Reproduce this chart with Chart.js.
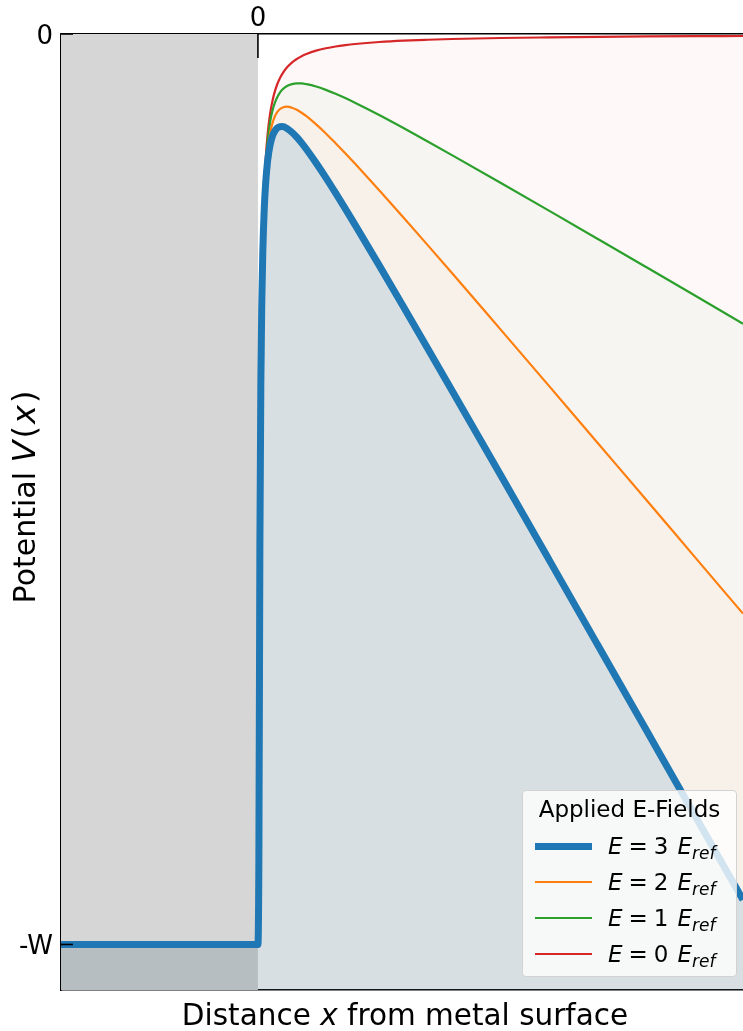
<!DOCTYPE html>
<html>
<head>
<meta charset="utf-8">
<script src="https://cdn.jsdelivr.net/npm/chart.js@4.4.1/dist/chart.umd.min.js"></script>
<style>
html,body{margin:0;padding:0;background:#fff;overflow:hidden;}
#wrap{position:relative;width:743px;height:1031px;}
canvas{display:block;}
#legend{position:absolute;left:522px;top:790px;width:215px;height:187px;box-sizing:border-box;
  background:rgba(255,255,255,0.8);border:1.5px solid #d2d2d2;border-radius:4px;
  font-family:"DejaVu Sans";color:#000;}
#legend .lt{position:absolute;left:0;right:0;top:3px;height:30px;line-height:30px;text-align:center;font-size:23px;}
#legend .row{position:absolute;left:0;right:0;height:30px;}
#legend .sw{position:absolute;left:12px;width:57px;}
#legend .lbl{position:absolute;left:85px;top:0;height:30px;line-height:30px;font-size:23px;white-space:nowrap;}
#legend .lbl .eq{margin:0 6px;}
#legend .lbl .e2{margin-left:9px;}
#legend .lbl .sub{position:relative;top:5px;font-size:17px;font-style:italic;}
</style>
</head>
<body>
<div id="wrap">
<canvas id="c" width="743" height="1031"></canvas>
<div id="legend"></div>
</div>
<script>
// ---- data ----
const xValues = [-4.06, 0, 0.02, 0.04, 0.06, 0.08, 0.1, 0.13, 0.16, 0.2, 0.25, 0.3, 0.35, 0.4, 0.45, 0.5, 0.6, 0.7, 0.8, 0.9, 1.0, 1.2, 1.4, 1.6, 1.8, 2.0, 2.5, 3, 3.5, 4, 5, 6, 7, 8, 9, 10];
const potentialE3 = [-10, -10, -9.0, -5.62, -3.83, -2.93, -2.40, -1.92, -1.63, -1.39, -1.22, -1.12, -1.064, -1.032, -1.018, -1.017, -1.037, -1.079, -1.133, -1.196, -1.266, -1.417, -1.578, -1.746, -1.918, -2.094, -2.541, -2.996, -3.454, -3.915, -4.842, -5.773, -6.706, -7.640, -8.574, -9.510];
const potentialE2 = [-10, -10, -9.2, -5.57, -3.76, -2.85, -2.32, -1.83, -1.53, -1.28, -1.09, -0.977, -0.903, -0.856, -0.826, -0.809, -0.798, -0.810, -0.833, -0.865, -0.903, -0.993, -1.092, -1.199, -1.309, -1.423, -1.715, -2.015, -2.319, -2.625, -3.244, -3.865, -4.489, -5.113, -5.740, -6.366];
const potentialE1 = [-10, -10, -9.2, -5.52, -3.70, -2.79, -2.25, -1.75, -1.44, -1.18, -0.97, -0.84, -0.754, -0.692, -0.646, -0.613, -0.571, -0.551, -0.543, -0.543, -0.551, -0.577, -0.614, -0.657, -0.704, -0.755, -0.890, -1.033, -1.180, -1.330, -1.633, -1.940, -2.249, -2.559, -2.870, -3.183];
const potentialE0 = [-10, -10, -9.2, -5.49, -3.66, -2.75, -2.20, -1.69, -1.37, -1.10, -0.879, -0.733, -0.628, -0.549, -0.488, -0.440, -0.366, -0.314, -0.275, -0.244, -0.220, -0.183, -0.157, -0.137, -0.122, -0.110, -0.088, -0.073, -0.063, -0.055, -0.044, -0.037, -0.031, -0.027, -0.024, -0.022];
const metalX = [-4.06, 0];
const metalTop = [0, 0];
const fieldMultipliers = [3, 2, 1, 0];
const seriesColors = ['#1f77b4', '#ff7f0e', '#2ca02c', '#d62728'];
const seriesFills = ['rgba(31,119,180,0.15)', 'rgba(255,127,14,0.03)', 'rgba(44,160,44,0.03)', 'rgba(214,39,40,0.03)'];
const seriesWidths = [7, 2.2, 2.2, 2.2];
const xTickValues = [0];
const xTickLabels = ['0'];
const yTickValues = [-10, 0];
const yTickLabels = ['-W', '0'];
const xMin = -4.06, xMax = 10, yMin = -10.5, yMax = 0;
const legendTitle = 'Applied E-Fields';
const xTitleParts = [{t:'Distance '}, {t:'x', i:true}, {t:' from metal surface'}];
const yTitleParts = [{t:'Potential '}, {t:'V', i:true, s:32, g:2}, {t:'(', s:32, g:2}, {t:'x', i:true, s:32, g:2}, {t:')', s:32}];

const seriesValues = [potentialE3, potentialE2, potentialE1, potentialE0];
const FONT = '"DejaVu Sans"';

const datasets = seriesValues.map((vals, k) => ({
  label: 'E = ' + fieldMultipliers[k] + ' E_ref',
  data: xValues.map((x, i) => ({x: x, y: vals[i]})),
  showLine: true,
  borderColor: seriesColors[k],
  borderWidth: seriesWidths[k],
  backgroundColor: seriesFills[k],
  fill: 'start',
  pointRadius: 0,
  cubicInterpolationMode: 'monotone',
  borderCapStyle: 'butt',
  borderJoinStyle: 'round'
}));
datasets.push({
  label: 'metal',
  data: metalX.map((x, i) => ({x: x, y: metalTop[i]})),
  showLine: true,
  borderWidth: 0,
  borderColor: 'rgba(0,0,0,0)',
  backgroundColor: '#d6d6d6',
  fill: 'start',
  pointRadius: 0
});

function drawParts(ctx, parts, size, cx, cy, rotate) {
  ctx.save();
  ctx.translate(cx, cy);
  if (rotate) ctx.rotate(-Math.PI / 2);
  const fontOf = p => (p.i ? 'italic ' : '') + (p.s || size) + 'px ' + FONT;
  let total = 0;
  parts.forEach(p => { ctx.font = fontOf(p); p.w = ctx.measureText(p.t).width + (p.g || 0); total += p.w; });
  let x = -total / 2;
  ctx.fillStyle = '#000';
  ctx.textBaseline = 'alphabetic';
  ctx.textAlign = 'left';
  parts.forEach(p => { ctx.font = fontOf(p); ctx.fillText(p.t, x, 0); x += p.w; });
  ctx.restore();
}

const decor = {
  id: 'decor',
  afterDraw(chart) {
    const {ctx, chartArea, scales} = chart;
    ctx.save();
    ctx.strokeStyle = '#000';
    ctx.lineWidth = 1.6;
    xTickValues.forEach(v => {
      const px = scales.x.getPixelForValue(v);
      ctx.beginPath(); ctx.moveTo(px, chartArea.top); ctx.lineTo(px, chartArea.top + 24); ctx.stroke();
    });
    yTickValues.forEach(v => {
      const py = scales.y.getPixelForValue(v);
      ctx.beginPath(); ctx.moveTo(chartArea.left, py); ctx.lineTo(chartArea.left + 12, py); ctx.stroke();
    });
    ctx.restore();
    drawParts(ctx, xTitleParts, 29.5, 405, 1025, false);
    drawParts(ctx, yTitleParts, 30, 35, 497, true);
  }
};

new Chart(document.getElementById('c'), {
  type: 'scatter',
  data: {datasets: datasets},
  plugins: [decor],
  options: {
    responsive: false,
    animation: false,
    devicePixelRatio: 1,
    layout: {padding: 0},
    plugins: {legend: {display: false}, tooltip: {enabled: false}, filler: {propagate: false}},
    scales: {
      x: {
        type: 'linear', position: 'top', min: xMin, max: xMax,
        afterFit: s => { s.height = 34; },
        afterBuildTicks: s => { s.ticks = xTickValues.map(v => ({value: v})); },
        grid: {display: false, drawTicks: false},
        border: {display: true, color: '#000', width: 1.6},
        ticks: {padding: -1, color: '#000', font: {family: 'DejaVu Sans', size: 26},
          callback: v => { const i = xTickValues.indexOf(v); return i >= 0 ? xTickLabels[i] : ''; }}
      },
      x2: {
        type: 'linear', position: 'bottom', min: xMin, max: xMax,
        afterFit: s => { s.height = 41; },
        grid: {display: false, drawTicks: false},
        border: {display: true, color: '#000', width: 1.6},
        ticks: {display: false}
      },
      y: {
        type: 'linear', position: 'left', min: yMin, max: yMax,
        afterFit: s => { s.width = 61; },
        afterBuildTicks: s => { s.ticks = yTickValues.map(v => ({value: v})); },
        grid: {display: false, drawTicks: false},
        border: {display: true, color: '#000', width: 1.6},
        ticks: {padding: 8, labelOffset: 3, color: '#000', font: {family: 'DejaVu Sans', size: 26},
          callback: v => { const i = yTickValues.indexOf(v); return i >= 0 ? yTickLabels[i] : ''; }}
      }
    }
  }
});

// legend (HTML overlay, real text)
const leg = document.getElementById('legend');
let html = '<div class="lt">' + legendTitle + '</div>';
fieldMultipliers.forEach((m, k) => {
  const top = 55 + k * 36 - 15;
  const w = seriesWidths[k];
  html += '<div class="row" style="top:' + top + 'px">' +
    '<div class="sw" style="top:' + (15 - w / 2) + 'px;height:' + w + 'px;background:' + seriesColors[k] + '"></div>' +
    '<div class="lbl"><i>E</i><span class="eq">=</span>' + m + '<span class="e2"><i>E</i></span><span class="sub">ref</span></div>' +
    '</div>';
});
leg.innerHTML = html;
</script>
</body>
</html>
